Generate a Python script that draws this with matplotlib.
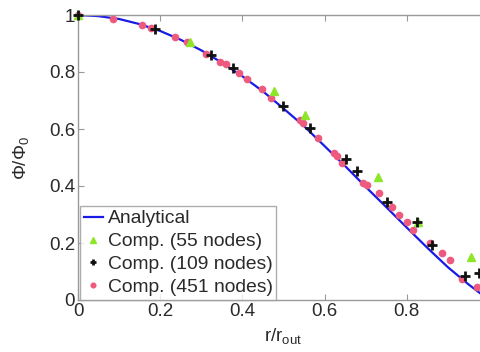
import matplotlib
matplotlib.use("Agg")
import matplotlib.pyplot as plt

# Analytical curve
ana_x = [0.0, 0.05, 0.1, 0.15, 0.2, 0.25, 0.3, 0.35, 0.4, 0.45, 0.5, 0.55, 0.6,
         0.65, 0.7, 0.75, 0.8, 0.85, 0.9, 0.95, 1.0]
ana_y = [1.0, 0.996, 0.986, 0.968, 0.944, 0.913, 0.876, 0.833, 0.785, 0.732, 0.672,
         0.610, 0.540, 0.470, 0.397, 0.326, 0.254, 0.183, 0.115, 0.055, 0.0]

# Comp. (55 nodes)
n55_x = [0.0, 0.272, 0.477, 0.552, 0.730, 0.827, 0.956]
n55_y = [1.0, 0.905, 0.733, 0.649, 0.430, 0.274, 0.151]

# Comp. (109 nodes)
n109_x = [0.0, 0.187, 0.324, 0.377, 0.499, 0.564, 0.652, 0.679, 0.752, 0.825, 0.861, 0.942, 0.976]
n109_y = [1.0, 0.951, 0.860, 0.814, 0.681, 0.603, 0.495, 0.453, 0.344, 0.274, 0.193, 0.084, 0.095]

# Comp. (451 nodes)
n451_x = [0.0, 0.085, 0.155, 0.178, 0.235, 0.265, 0.311, 0.345, 0.360, 0.392, 0.410, 0.448,
          0.470, 0.540, 0.548, 0.585, 0.622, 0.630, 0.642, 0.693, 0.703, 0.732, 0.764,
          0.780, 0.800, 0.815, 0.856, 0.885, 0.905, 0.934, 0.970]
n451_y = [1.0, 0.986, 0.966, 0.954, 0.923, 0.905, 0.863, 0.835, 0.828, 0.795, 0.776, 0.740,
          0.709, 0.630, 0.622, 0.570, 0.516, 0.505, 0.480, 0.410, 0.405, 0.375, 0.326,
          0.298, 0.274, 0.246, 0.200, 0.165, 0.140, 0.074, 0.046]

xticks = [0, 0.2, 0.4, 0.6, 0.8]
xticklabels = ["0", "0.2", "0.4", "0.6", "0.8"]
yticks = [0, 0.2, 0.4, 0.6, 0.8, 1.0]
yticklabels = ["0", "0.2", "0.4", "0.6", "0.8", "1"]

plt.rcParams['font.family'] = ['Liberation Sans', 'DejaVu Sans']
plt.rcParams['mathtext.fontset'] = 'custom'
plt.rcParams['mathtext.rm'] = 'Liberation Sans'

fig = plt.figure(figsize=(4.8, 3.52), dpi=100)
ax = fig.add_axes([78/480, 1-300/352, (489-78)/480, (300-15)/352])

ax.plot(ana_x, ana_y, color='#1a1ae6', lw=1.6, label='Analytical', zorder=2)
ax.plot(n55_x, n55_y, ls='none', marker='^', ms=6, color='#8de62a', mec='#8de62a',
        label='Comp. (55 nodes)', zorder=4, clip_on=False)
ax.plot(n109_x, n109_y, ls='none', marker='+', ms=6.5, mew=2, color='#111111',
        label='Comp. (109 nodes)', zorder=5, clip_on=False)
ax.plot(n451_x, n451_y, ls='none', marker='o', ms=4.5, color='#ee5a7e', mec='#ee5a7e',
        label='Comp. (451 nodes)', zorder=3, clip_on=False)

ax.set_xlim(0, 1)
ax.set_ylim(0, 1)
ax.set_xticks(xticks)
ax.set_xticklabels(xticklabels)
ax.set_yticks(yticks)
ax.set_yticklabels(yticklabels)
ax.tick_params(direction='in', top=True, right=True, length=4, width=0.8,
               color='#999999', labelsize=13.5, labelcolor='#2a2a2a', pad=2)
for s in ax.spines.values():
    s.set_color('#999999')
    s.set_linewidth(1.0)

ax.set_xlabel(r'r/r$_{\mathregular{out}}$', fontsize=13.5, color='#2a2a2a', labelpad=5)
ax.set_ylabel('Φ/Φ$_{\\mathregular{0}}$', fontsize=13.5, color='#2a2a2a', labelpad=12)

leg = ax.legend(loc='lower left', bbox_to_anchor=(0.004, 0.0), borderaxespad=0,
                fontsize=13.9, frameon=True, fancybox=False, handlelength=1.0,
                handletextpad=0.25, labelspacing=0.28, borderpad=0.2, markerscale=0.75)
leg.get_frame().set_edgecolor('#999999')
leg.get_frame().set_linewidth(1.0)
for t in leg.get_texts():
    t.set_color('#2a2a2a')

fig.savefig('out.png', dpi=100)
